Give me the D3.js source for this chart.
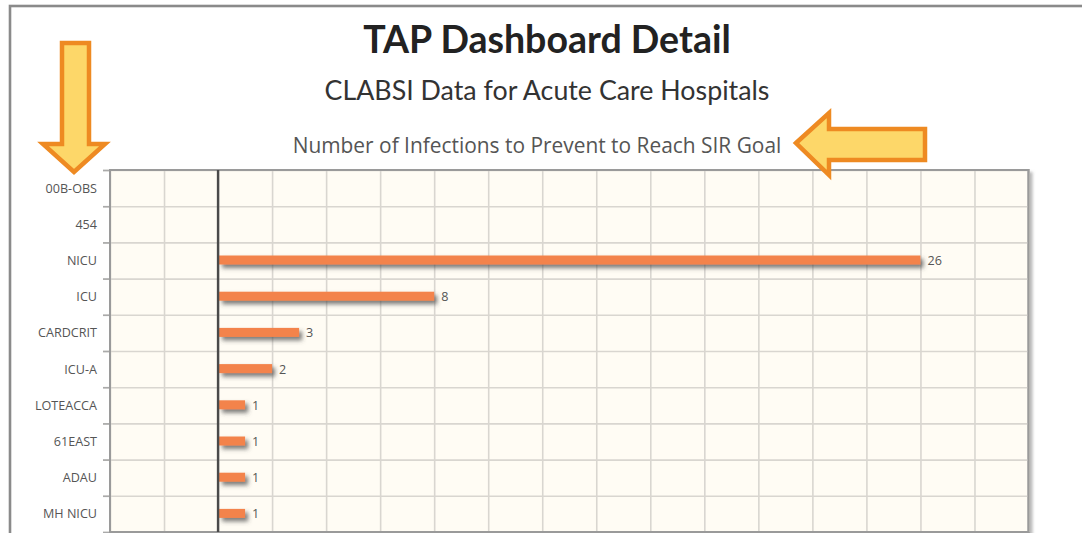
<!DOCTYPE html>
<html>
<head>
<meta charset="utf-8">
<script src="https://cdn.jsdelivr.net/npm/d3@7"></script>
<style>
  html, body { margin: 0; padding: 0; background: #fff; }
  svg { display: block; }
</style>
</head>
<body>
<div id="chart"></div>
<script>
const width = 1082,
    height = 533
const margin = {top: 170, right: 54, bottom: 1, left: 110}

// data
const units = ['00B-OBS', '454', 'NICU', 'ICU', 'CARDCRIT', 'ICU-A', 'LOTEACCA', '61EAST', 'ADAU', 'MH NICU']
const infections = [0, 0, 26, 8, 3, 2, 1, 1, 1, 1]
const xTicks = d3.range(-4, 31, 2)

const titleText = 'TAP Dashboard Detail'
const subTitleText = 'CLABSI Data for Acute Care Hospitals'
const chartTitleText = 'Number of Infections to Prevent to Reach SIR Goal'

const rows = units.map(function (u, i) {
    return {unit: u, value: infections[i]}
})

const svg = d3.select('#chart')
    .append('svg')
    .attr('width', width)
    .attr('height', height)

const defs = svg.append('defs')
const shadow = defs.append('filter')
    .attr('id', 'barShadow')
    .attr('x', '-10%').attr('y', '-60%')
    .attr('width', '130%').attr('height', '300%')
shadow.append('feDropShadow')
    .attr('dx', 3).attr('dy', 3.5)
    .attr('stdDeviation', 2)
    .attr('flood-color', '#444')
    .attr('flood-opacity', 0.7)

const frameShadow = defs.append('filter')
    .attr('id', 'frameShadow')
    .attr('x', '-5%').attr('y', '-5%')
    .attr('width', '110%').attr('height', '110%')
frameShadow.append('feDropShadow')
    .attr('dx', 3).attr('dy', 3)
    .attr('stdDeviation', 1.5)
    .attr('flood-color', '#888')
    .attr('flood-opacity', 0.6)

// page frame
svg.append('rect')
    .attr('x', 10).attr('y', 6)
    .attr('width', width + 20).attr('height', height + 20)
    .attr('fill', 'none')
    .attr('stroke', '#8a8a8a')
    .attr('stroke-width', 2.6)

// titles
svg.append('text')
    .attr('x', 547).attr('y', 53)
    .attr('text-anchor', 'middle')
    .attr('font-family', 'Lato, sans-serif')
    .attr('font-weight', 'bold')
    .attr('font-size', 37.5)
    .attr('fill', '#222')
    .text(titleText)

svg.append('text')
    .attr('x', 547).attr('y', 100)
    .attr('text-anchor', 'middle')
    .attr('font-family', 'Lato, sans-serif')
    .attr('font-size', 26.8)
    .attr('fill', '#333')
    .text(subTitleText)

svg.append('text')
    .attr('x', 537).attr('y', 153)
    .attr('text-anchor', 'middle')
    .attr('font-family', '"Open Sans", sans-serif')
    .attr('font-size', 20.9)
    .attr('fill', '#555')
    .text(chartTitleText)

/**
 * scales
 */
const x = d3.scaleLinear()
    .domain([-4, 30])
    .range([margin.left, width - margin.right + 0.5])

const y = d3.scaleBand()
    .domain(units)
    .range([margin.top, height - margin.bottom])

const yEdge = d3.scaleLinear()
    .domain([0, units.length])
    .range([margin.top, height - margin.bottom])

// plot background with frame shadow
svg.append('rect')
    .attr('x', x.range()[0]).attr('y', margin.top)
    .attr('width', x.range()[1] - x.range()[0])
    .attr('height', y.range()[1] - margin.top)
    .attr('fill', '#fffcf4')
    .attr('stroke', '#9a9a9a')
    .attr('stroke-width', 2)
    .attr('filter', 'url(#frameShadow)')

// vertical grid
svg.append('g')
    .attr('transform', 'translate(0,' + margin.top + ')')
    .call(d3.axisBottom(x).tickValues(xTicks).tickSize(y.range()[1] - margin.top).tickFormat(''))
    .call(function (g) {
        g.select('.domain').remove()
        g.selectAll('.tick line').attr('stroke', '#d9d6d0').attr('stroke-width', 1.6)
    })

// horizontal row lines + left ticks
svg.append('g')
    .attr('transform', 'translate(' + x.range()[1] + ',0)')
    .call(d3.axisLeft(yEdge).ticks(units.length).tickSize(x.range()[1] - x.range()[0] + 7).tickFormat(''))
    .call(function (g) {
        g.select('.domain').remove()
        g.selectAll('.tick line').attr('stroke', '#d9d6d0').attr('stroke-width', 1.6)
    })

// left tick stubs in darker grey
svg.append('g')
    .attr('transform', 'translate(' + x.range()[0] + ',0)')
    .call(d3.axisLeft(yEdge).ticks(units.length).tickSize(7).tickFormat(''))
    .call(function (g) {
        g.select('.domain').remove()
        g.selectAll('.tick line').attr('stroke', '#aaa').attr('stroke-width', 1.6)
    })

// frame on top of grid
svg.append('rect')
    .attr('x', x.range()[0]).attr('y', margin.top)
    .attr('width', x.range()[1] - x.range()[0])
    .attr('height', y.range()[1] - margin.top)
    .attr('fill', 'none')
    .attr('stroke', '#9a9a9a')
    .attr('stroke-width', 2)

// category labels
svg.append('g')
    .selectAll('text')
    .data(rows)
    .enter().append('text')
    .attr('x', x.range()[0] - 13)
    .attr('y', function (d) { return y(d.unit) + y.bandwidth() / 2 })
    .attr('dy', '0.35em')
    .attr('text-anchor', 'end')
    .attr('font-family', '"Open Sans", sans-serif')
    .attr('font-size', 12.6)
    .attr('fill', '#555')
    .text(function (d) { return d.unit })

// bars
const barH = 9
const bars = rows.filter(function (d) { return d.value > 0 })

svg.append('g')
    .attr('fill', '#f3834b')
    .attr('filter', 'url(#barShadow)')
    .selectAll('rect')
    .data(bars)
    .enter().append('rect')
    .attr('x', x(0) + 1)
    .attr('y', function (d) { return y(d.unit) + y.bandwidth() / 2 - barH / 2 - 0.5 })
    .attr('width', function (d) { return x(d.value) - x(0) - 1 })
    .attr('height', barH)

// zero line
svg.append('line')
    .attr('x1', x(0)).attr('x2', x(0))
    .attr('y1', margin.top).attr('y2', y.range()[1])
    .attr('stroke', '#4a4a4a')
    .attr('stroke-width', 2.4)

// value labels
svg.append('g')
    .selectAll('text')
    .data(bars)
    .enter().append('text')
    .attr('x', function (d) { return x(d.value) + 7 })
    .attr('y', function (d) { return y(d.unit) + y.bandwidth() / 2 })
    .attr('dy', '0.35em')
    .attr('font-family', '"Open Sans", sans-serif')
    .attr('font-size', 12.6)
    .attr('fill', '#555')
    .text(function (d) { return d.value })

// highlight arrows
const arrowDown = [[62, 43], [89, 43], [89, 144], [105, 144], [74, 172], [43, 144], [62, 144]]
const arrowLeft = [[796, 143], [829, 113], [829, 129], [925, 129], [925, 160], [829, 160], [829, 175]]

const arrowLine = d3.line()
svg.append('g')
    .selectAll('path')
    .data([arrowDown, arrowLeft])
    .enter().append('path')
    .attr('d', function (d) { return arrowLine(d) + 'Z' })
    .attr('fill', '#fdd769')
    .attr('stroke', '#ee8a22')
    .attr('stroke-width', 4.5)
    .attr('stroke-linejoin', 'miter')
</script>
</body>
</html>
